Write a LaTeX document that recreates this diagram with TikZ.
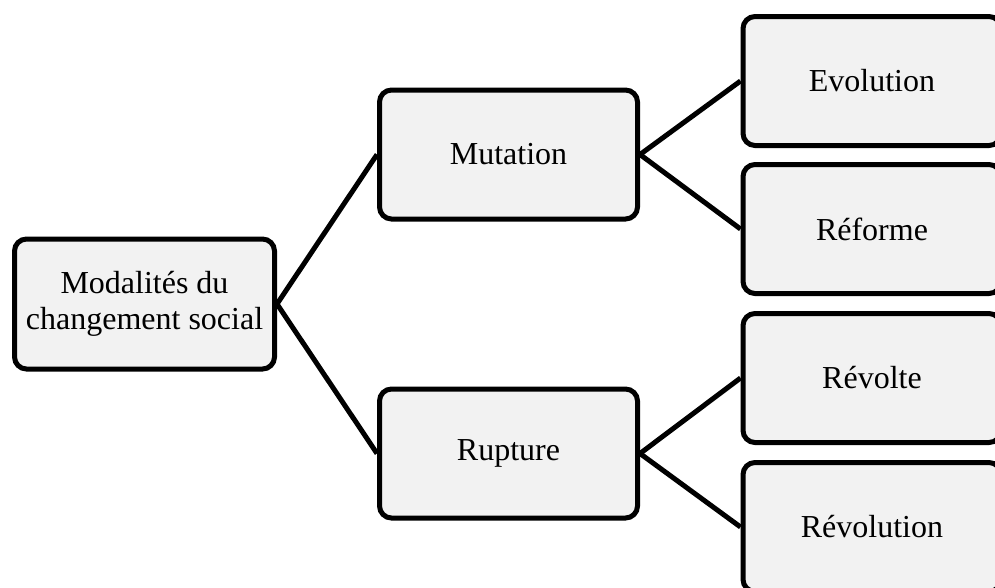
\documentclass[tikz,border=0pt]{standalone}
\usepackage{fontspec}
\setmainfont{Liberation Serif}
\usepackage{tikz}

\begin{document}
\begin{tikzpicture}[x=1pt, y=-1pt,
    box/.style={draw, line width=5pt, rounded corners=12pt, fill=gray!10,
        minimum width=258pt, minimum height=129pt, align=center,
        font=\fontsize{32}{36}\selectfont},
    link/.style={line width=5pt}]
\useasboundingbox (0,0) rectangle (995,587);
\clip (0,0) rectangle (995,587);

\draw (144.5,304) node (Root) [box, minimum width=260pt, minimum height=130pt] {Modalités du\\changement social};
\draw (508.5,154.5) node (Mut) [box] {Mutation};
\draw (508.5,453.5) node (Rup) [box] {Rupture};
\draw (872,81) node (Evo) [box] {Evolution};
\draw (872,229) node (Ref) [box] {Réforme};
\draw (872,378) node (Rvt) [box] {Révolte};
\draw (872,527) node (Rvn) [box] {Révolution};

\draw[link] (Root.east) -- (Mut.west);
\draw[link] (Root.east) -- (Rup.west);

\draw[link] (Mut.east) -- (Evo.west);
\draw[link] (Mut.east) -- (Ref.west);

\draw[link] (Rup.east) -- (Rvt.west);
\draw[link] (Rup.east) -- (Rvn.west);

\end{tikzpicture}
\end{document}
